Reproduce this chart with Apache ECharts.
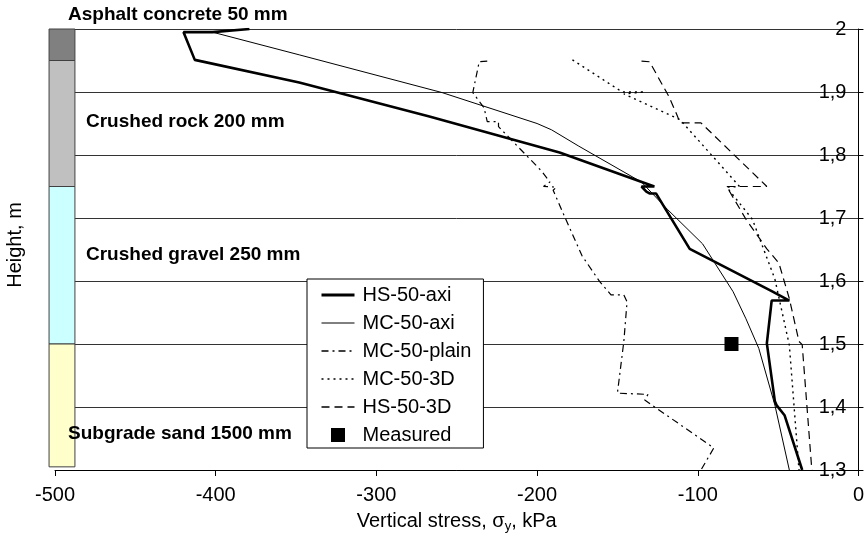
<!DOCTYPE html>
<html><head><meta charset="utf-8">
<script src="https://cdn.jsdelivr.net/npm/echarts@6/dist/echarts.min.js"></script>
<style>html,body{margin:0;padding:0;background:#fff}#c{width:867px;height:538px}</style>
</head><body><div id="c"></div>
<script>
// ---- data (stress in kPa, height in m) ----
const hsAxiStress  = [-379, -402, -420, -413, -348, -267, -186, -127, -135, -132, -130, -126, -105, -54, -43, -54, -57, -52, -51, -50, -46, -35];
const hsAxiHeight  = [2.0, 1.995, 1.995, 1.951, 1.915, 1.861, 1.804, 1.75, 1.75, 1.742, 1.739, 1.739, 1.651, 1.584, 1.569, 1.569, 1.501, 1.409, 1.403, 1.406, 1.387, 1.3];

const mcAxiStress  = [-402, -348, -259, -200, -191, -174, -135, -119, -97, -78, -70, -62, -52, -43];
const mcAxiHeight  = [1.995, 1.959, 1.899, 1.85, 1.84, 1.814, 1.757, 1.714, 1.659, 1.583, 1.54, 1.493, 1.403, 1.3];

const mcPlainStress = [-231, -236, -240, -233, -231, -224, -224, -197, -192, -196, -188, -190, -183, -172, -161, -154, -146, -144, -146, -150, -131, -133, -90, -98];
const mcPlainHeight = [1.949, 1.948, 1.899, 1.875, 1.853, 1.853, 1.845, 1.774, 1.757, 1.75, 1.749, 1.744, 1.703, 1.64, 1.599, 1.578, 1.578, 1.567, 1.504, 1.422, 1.42, 1.411, 1.335, 1.3];

const mc3dStress   = [-178, -147, -133, -146, -111, -74, -82, -66, -52, -43, -37];
const mc3dHeight   = [1.951, 1.9, 1.9, 1.897, 1.856, 1.75, 1.749, 1.698, 1.603, 1.498, 1.3];

const hs3dStress   = [-135, -130, -118, -113, -111, -98, -57, -82, -70, -57, -50, -49, -43, -37, -35, -29];
const hs3dHeight   = [1.949, 1.948, 1.893, 1.864, 1.851, 1.851, 1.75, 1.75, 1.698, 1.651, 1.63, 1.624, 1.572, 1.504, 1.499, 1.3];

const measuredStress = [-79];
const measuredHeight = [1.5];

const layerNames  = ['Asphalt concrete 50 mm', 'Crushed rock 200 mm', 'Crushed gravel 250 mm', 'Subgrade sand 1500 mm'];
const layerTop    = [2.0, 1.95, 1.75, 1.5];
const layerBottom = [1.95, 1.75, 1.5, 1.305];

const xTickValues = [-500, -400, -300, -200, -100, 0];
const yTickValues = [1.3, 1.4, 1.5, 1.6, 1.7, 1.8, 1.9, 2.0];

// ---- chart ----
const FONT = 'Liberation Sans, Arial, sans-serif';
const layerColors = ['#808080', '#c0c0c0', '#ccffff', '#ffffcc'];
const pairs = (xs, ys) => xs.map((x, i) => [x, ys[i]]);
const lineLegend = (name, w, t) => ({name: name, itemStyle: {opacity: 0}, lineStyle: {width: w, type: t, color: '#000'}});

const chart = echarts.init(document.getElementById('c'), null, {renderer: 'canvas'});

const option = {
  animation: false,
  backgroundColor: '#fff',
  textStyle: {fontFamily: FONT},
  grid: {left: 55, right: 8, top: 29, bottom: 65, containLabel: false},
  xAxis: {
    type: 'value', min: xTickValues[0], max: xTickValues[xTickValues.length - 1], interval: 100,
    axisLine: {show: true, onZero: false, lineStyle: {color: '#000', width: 1}},
    axisTick: {show: true, length: 6, lineStyle: {color: '#000'}},
    axisLabel: {fontSize: 20, color: '#000', margin: 15, fontFamily: FONT},
    splitLine: {show: false},
    name: '{n|Vertical stress, σ}{s|y}{n|, kPa}',
    nameLocation: 'middle', nameGap: 40,
    nameTextStyle: {
      color: '#000', fontFamily: FONT,
      rich: {n: {fontSize: 20, color: '#000', fontFamily: FONT}, s: {fontSize: 13, color: '#000', fontFamily: FONT, padding: [10, 0, 0, 0]}}
    }
  },
  yAxis: {
    type: 'value', position: 'right', min: yTickValues[0], max: yTickValues[yTickValues.length - 1], interval: 0.1,
    axisLine: {show: true, onZero: false, lineStyle: {color: '#000', width: 1}},
    axisTick: {show: true, inside: false, length: 5, lineStyle: {color: '#000'}},
    axisLabel: {inside: true, margin: 12, fontSize: 20, color: '#000', fontFamily: FONT,
      formatter: v => String(parseFloat(v.toFixed(1))).replace('.', ',')},
    splitLine: {show: true, lineStyle: {color: '#333', width: 1}}
  },
  legend: {
    orient: 'vertical', left: 307, top: 279,
    padding: [6, 12, 3, 13], itemWidth: 33, itemHeight: 14, itemGap: 8,
    backgroundColor: '#fff', borderColor: '#000', borderWidth: 1,
    textStyle: {fontSize: 20, color: '#000', fontFamily: FONT, padding: [0, 0, 0, 3]},
    data: [lineLegend('HS-50-axi', 3, 'solid'), lineLegend('MC-50-axi', 1, 'solid'),
           lineLegend('MC-50-plain', 1.5, [7, 4, 2, 4]), lineLegend('MC-50-3D', 1.5, [2, 4]),
           lineLegend('HS-50-3D', 1.5, [8, 5]),
           {name: 'Measured', icon: 'path://M0,0H10V10H0Z'}]
  },
  graphic: [
    {type: 'text', left: 68, top: 5, z: 100, style: {text: layerNames[0], font: 'bold 19px ' + FONT, fill: '#000'}},
    {type: 'text', left: 86, top: 112, z: 100, style: {text: layerNames[1], font: 'bold 19px ' + FONT, fill: '#000'}},
    {type: 'text', left: 86, top: 245, z: 100, style: {text: layerNames[2], font: 'bold 19px ' + FONT, fill: '#000'}},
    {type: 'text', left: 68, top: 424, z: 100, style: {text: layerNames[3], font: 'bold 19px ' + FONT, fill: '#000'}},
    {type: 'text', x: 15, y: 245, rotation: Math.PI / 2, z: 100,
      style: {text: 'Height, m', font: '20px ' + FONT, fill: '#000', align: 'center', verticalAlign: 'middle'}}
  ],
  series: [
    {
      name: 'Layers', type: 'custom', clip: false, z: 3, silent: true,
      data: layerTop.map((t, i) => [t, layerBottom[i], i]),
      encode: {y: [0, 1]},
      renderItem: (params, api) => {
        const p1 = api.coord([-503.7, api.value(0)]);
        const p2 = api.coord([-487.6, api.value(1)]);
        return {
          type: 'rect',
          shape: {x: p1[0], y: p1[1], width: p2[0] - p1[0], height: p2[1] - p1[1]},
          style: {fill: layerColors[api.value(2)], stroke: '#404040', lineWidth: 1}
        };
      }
    },
    {name: 'HS-50-axi', type: 'line', data: pairs(hsAxiStress, hsAxiHeight), symbol: 'none', z: 5,
      lineStyle: {color: '#000', width: 2.6, type: 'solid'}, itemStyle: {color: '#000'}},
    {name: 'MC-50-axi', type: 'line', data: pairs(mcAxiStress, mcAxiHeight), symbol: 'none', z: 5,
      lineStyle: {color: '#000', width: 1, type: 'solid'}, itemStyle: {color: '#000'}},
    {name: 'MC-50-plain', type: 'line', data: pairs(mcPlainStress, mcPlainHeight), symbol: 'none', z: 5,
      lineStyle: {color: '#000', width: 1.2, type: [7, 4, 2, 4]}, itemStyle: {color: '#000'}},
    {name: 'MC-50-3D', type: 'line', data: pairs(mc3dStress, mc3dHeight), symbol: 'none', z: 5,
      lineStyle: {color: '#000', width: 1.4, type: [2, 4]}, itemStyle: {color: '#000'}},
    {name: 'HS-50-3D', type: 'line', data: pairs(hs3dStress, hs3dHeight), symbol: 'none', z: 5,
      lineStyle: {color: '#000', width: 1.2, type: [8, 5]}, itemStyle: {color: '#000'}},
    {name: 'Measured', type: 'scatter', data: pairs(measuredStress, measuredHeight), symbol: 'rect', symbolSize: 14, z: 6,
      itemStyle: {color: '#000', opacity: 1}}
  ]
};
chart.setOption(option);
</script>
</body></html>
